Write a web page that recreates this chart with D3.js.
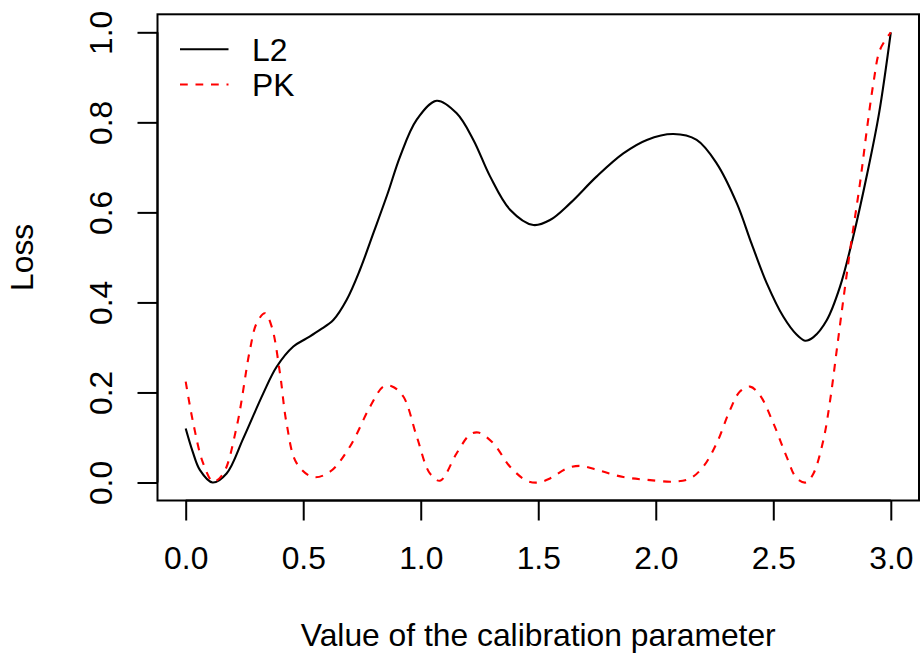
<!DOCTYPE html>
<html>
<head>
<meta charset="utf-8">
<script src="https://cdn.jsdelivr.net/npm/d3@7"></script>
<style>
  html, body { margin: 0; padding: 0; background: #fff; }
  svg { display: block; font-family: "Liberation Sans", Arial, Helvetica, sans-serif; }
</style>
</head>
<body>
<svg id="chart" width="922" height="659"></svg>
<script>
// ---- data ----
const xTicks = [0.0, 0.5, 1.0, 1.5, 2.0, 2.5, 3.0];
const yTicks = [0.0, 0.2, 0.4, 0.6, 0.8, 1.0];
const seriesNames = ["L2", "PK"];

const l2X = [0, 0.03, 0.06, 0.114, 0.174, 0.245, 0.33, 0.387, 0.458, 0.514, 0.571, 0.628, 0.685, 0.741, 0.80, 0.86, 0.912, 0.983, 1.068, 1.153, 1.224, 1.295, 1.38, 1.479, 1.55, 1.635, 1.749, 1.862, 1.962, 2.075, 2.174, 2.259, 2.345, 2.408, 2.472, 2.543, 2.60, 2.635, 2.671, 2.728, 2.784, 2.84, 2.90, 2.95, 3.0];
const l2Y = [0.12, 0.068, 0.028, 0.0, 0.02, 0.098, 0.198, 0.257, 0.302, 0.32, 0.339, 0.361, 0.406, 0.472, 0.556, 0.643, 0.724, 0.806, 0.848, 0.82, 0.761, 0.68, 0.606, 0.572, 0.583, 0.62, 0.68, 0.731, 0.761, 0.774, 0.761, 0.709, 0.62, 0.53, 0.443, 0.368, 0.328, 0.315, 0.323, 0.361, 0.435, 0.546, 0.687, 0.82, 1.0];

const pkX = [0, 0.032, 0.074, 0.117, 0.16, 0.217, 0.273, 0.302, 0.337, 0.366, 0.401, 0.429, 0.472, 0.543, 0.614, 0.699, 0.784, 0.841, 0.876, 0.926, 0.983, 1.039, 1.082, 1.153, 1.209, 1.245, 1.309, 1.38, 1.451, 1.50, 1.55, 1.621, 1.678, 1.763, 1.862, 1.962, 2.075, 2.146, 2.202, 2.259, 2.316, 2.358, 2.401, 2.443, 2.5, 2.557, 2.60, 2.64, 2.671, 2.713, 2.742, 2.770, 2.798, 2.827, 2.869, 2.898, 2.926, 2.954, 3.0];
const pkY = [0.224, 0.132, 0.043, 0.002, 0.020, 0.124, 0.294, 0.354, 0.376, 0.346, 0.243, 0.132, 0.043, 0.012, 0.024, 0.080, 0.168, 0.213, 0.214, 0.191, 0.102, 0.020, 0.004, 0.065, 0.106, 0.111, 0.087, 0.035, 0.004, 0.0, 0.009, 0.031, 0.037, 0.026, 0.012, 0.006, 0.002, 0.009, 0.035, 0.087, 0.161, 0.202, 0.213, 0.194, 0.132, 0.057, 0.009, 0.0, 0.020, 0.094, 0.183, 0.294, 0.406, 0.517, 0.665, 0.783, 0.887, 0.961, 1.0];

// ---- layout ----
const svg = d3.select("#chart");
const box = { left: 157.5, right: 919, top: 14.3, bottom: 500.5 };
const FS = 31.8;
const FONT = "Liberation Sans, Arial, sans-serif";

const x = d3.scaleLinear().domain([-0.12, 3.12]).range([box.left, box.right]);
const y = d3.scaleLinear().domain([-0.04, 1.04]).range([box.bottom, box.top]);

// curves
const line = d3.line().x(d => x(d[0])).y(d => y(d[1])).curve(d3.curveCatmullRom.alpha(0.5));
const l2 = l2X.map((v, i) => [v, l2Y[i]]);
const pk = pkX.map((v, i) => [v, pkY[i]]);

svg.append("path").attr("d", line(l2)).attr("fill", "none")
  .attr("stroke", "#000").attr("stroke-width", 2.1).attr("stroke-linejoin", "round");
svg.append("path").attr("d", line(pk)).attr("fill", "none")
  .attr("stroke", "#ff0000").attr("stroke-width", 2.1).attr("stroke-dasharray", "7.75,7.75");

// box
svg.append("rect").attr("x", box.left).attr("y", box.top)
  .attr("width", box.right - box.left).attr("height", box.bottom - box.top)
  .attr("fill", "none").attr("stroke", "#000").attr("stroke-width", 2);

// x axis
const xAxis = d3.axisBottom(x).tickValues(xTicks).tickSize(20).tickPadding(0)
  .tickFormat(d3.format(".1f"));
const gx = svg.append("g").attr("transform", `translate(0,${box.bottom})`).call(xAxis);
gx.select(".domain").attr("stroke-width", 2).attr("d", `M${x(0)},0H${x(3)}`);
gx.selectAll(".tick line").attr("stroke-width", 2);
gx.selectAll(".tick text").attr("font-size", FS).attr("fill", "#000")
  .attr("font-family", FONT)
  .attr("y", 569 - box.bottom).attr("dy", 0);

// y axis
const yAxis = d3.axisLeft(y).tickValues(yTicks).tickSize(20).tickPadding(0)
  .tickFormat(d3.format(".1f"));
const gy = svg.append("g").attr("transform", `translate(${box.left},0)`).call(yAxis);
gy.select(".domain").attr("stroke-width", 2).attr("d", `M0,${y(0)}V${y(1)}`);
gy.selectAll(".tick line").attr("stroke-width", 2);
gy.selectAll(".tick text").attr("font-size", FS).attr("fill", "#000")
  .attr("font-family", FONT)
  .attr("x", null).attr("dy", 0).attr("text-anchor", "middle")
  .attr("transform", `translate(${112 - box.left},0) rotate(-90)`);

// axis titles
svg.append("text").attr("x", (box.left + box.right) / 2).attr("y", 646)
  .attr("text-anchor", "middle").attr("font-size", FS).text("Value of the calibration parameter");
svg.append("text").attr("transform", `translate(33,${(box.top + box.bottom) / 2}) rotate(-90)`)
  .attr("text-anchor", "middle").attr("font-size", FS).text("Loss");

// legend
const legStyles = [
  { color: "#000", dash: null },
  { color: "#ff0000", dash: "7.75,7.75" }
];
const legY = d3.scalePoint().domain(seriesNames).range([49.3, 84.5]);
seriesNames.forEach((name, i) => {
  const yy = legY(name);
  const ln = svg.append("line").attr("x1", 180).attr("x2", 228.5).attr("y1", yy).attr("y2", yy)
    .attr("stroke", legStyles[i].color).attr("stroke-width", 2.1);
  if (legStyles[i].dash) ln.attr("stroke-dasharray", legStyles[i].dash);
  svg.append("text").attr("x", 252).attr("y", yy).attr("dy", "0.36em")
    .attr("font-size", FS).text(name);
});
</script>
</body>
</html>
